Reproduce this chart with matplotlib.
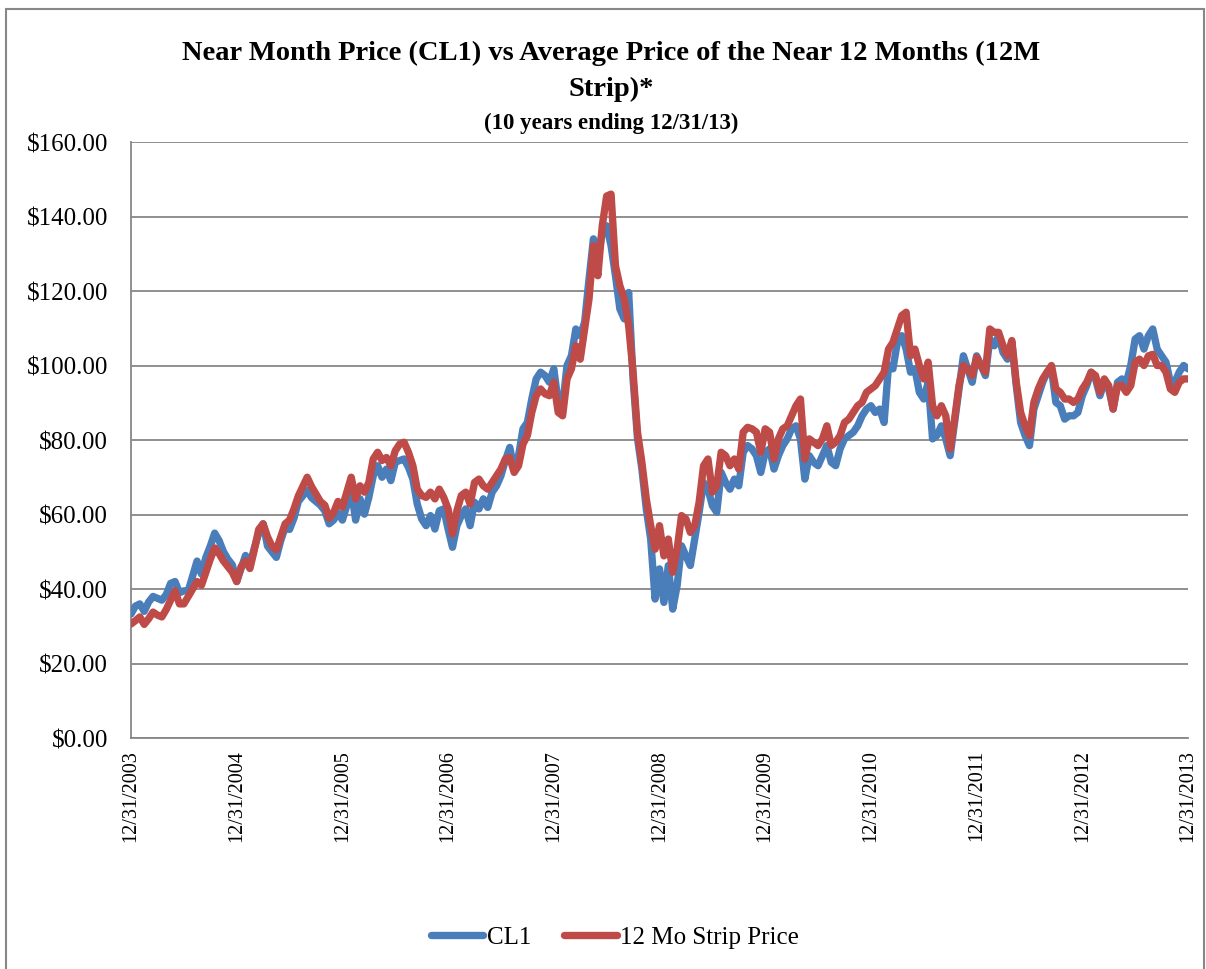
import numpy as np
import matplotlib
matplotlib.use("Agg")
import matplotlib.pyplot as plt
from matplotlib.patches import Rectangle

plt.rcParams['font.family'] = ['Liberation Serif', 'DejaVu Serif']

# semi-monthly readings, 12/31/2003 .. 12/31/2013
cl1 = [33.3, 35.4, 36.0, 34.0, 36.5, 38.0, 37.5, 37.0, 38.5, 41.5, 42.0, 39.0,
       39.5, 39.5, 43.5, 47.5, 44.0, 48.5, 51.5, 55.0, 53.0, 50.0, 48.0, 46.5,
       42.0, 45.5, 49.0, 46.5, 51.0, 55.0, 57.5, 51.5, 50.0, 48.5, 53.0, 56.5,
       56.0, 59.0, 63.5, 65.0, 66.5, 64.5, 63.5, 62.5, 61.0, 57.5, 58.5, 60.5,
       58.5, 62.4, 66.8, 58.5, 64.2, 60.1, 64.6, 70.4, 73.1, 70.0, 72.2, 69.1,
       74.0, 74.5, 74.9, 72.7, 69.5, 62.8, 58.8, 57.0, 59.7, 56.1, 61.0, 61.5,
       56.1, 51.2, 57.0, 59.7, 61.5, 57.0, 63.3, 61.5, 64.2, 61.9, 66.0, 67.7,
       70.4, 74.5, 78.0, 72.2, 75.8, 83.0, 84.7, 91.0, 96.4, 98.2, 97.3, 95.5,
       99.1, 90.1, 89.2, 100.0, 102.6, 109.8, 108.0, 111.6, 123.2, 134.0, 128.6, 135.7,
       137.5, 132.2, 124.1, 115.2, 112.5, 119.6, 96.4, 80.5, 72.2, 61.5, 53.4, 37.3,
       45.4, 36.4, 46.3, 34.6, 40.9, 51.6, 48.9, 46.3, 53.4, 60.6, 68.6, 66.8,
       62.4, 60.6, 71.3, 68.6, 66.8, 69.5, 67.7, 76.7, 78.5, 77.6, 75.8, 71.3,
       76.7, 77.6, 72.2, 75.8, 78.5, 80.3, 83.0, 83.8, 80.3, 69.5, 75.8, 74.0,
       73.1, 75.8, 78.5, 74.0, 73.1, 77.6, 80.3, 81.2, 82.1, 83.8, 86.5, 88.3,
       89.2, 87.4, 88.3, 84.7, 100.0, 99.1, 106.2, 108.0, 104.4, 98.2, 99.1, 92.8,
       91.0, 95.5, 80.3, 81.2, 83.8, 80.3, 75.8, 84.7, 93.7, 102.6, 99.0, 95.5,
       102.6, 100.0, 97.3, 107.1, 105.3, 108.0, 103.5, 101.7, 106.2, 94.6, 84.7, 81.2,
       78.5, 88.3, 91.9, 95.5, 98.2, 99.1, 90.1, 89.2, 85.6, 86.5, 86.5, 87.4,
       91.9, 94.6, 98.2, 96.4, 91.9, 95.5, 93.7, 88.3, 95.5, 96.4, 95.5, 100.0,
       107.1, 108.0, 104.4, 108.0, 109.8, 104.4, 102.6, 100.9, 95.5, 95.5, 98.2, 100.0,
       99.1]

strip = [30.6, 31.5, 32.5, 30.5, 32.0, 33.8, 33.0, 32.5, 34.5, 37.0, 39.5, 36.0,
         36.0, 38.0, 40.0, 42.0, 41.0, 44.5, 48.0, 51.0, 49.5, 47.5, 46.0, 44.5,
         42.0, 46.0, 47.5, 45.5, 50.5, 56.0, 57.5, 54.0, 51.5, 50.5, 54.0, 57.5,
         58.5, 61.5, 65.0, 67.5, 70.0, 67.5, 65.5, 63.5, 62.5, 59.0, 60.5, 63.5,
         62.0, 66.0, 70.0, 64.2, 67.7, 66.0, 68.6, 74.9, 76.7, 74.5, 75.3, 73.1,
         77.1, 78.9, 79.4, 76.7, 73.1, 66.8, 65.1, 64.6, 66.0, 64.2, 66.8, 64.6,
         61.5, 54.8, 61.0, 65.1, 66.0, 62.8, 68.6, 69.5, 67.7, 66.8, 68.6, 70.4,
         72.2, 74.9, 75.3, 71.3, 73.1, 78.9, 81.2, 87.4, 91.9, 93.7, 92.4, 91.9,
         95.5, 87.4, 86.5, 96.4, 99.1, 105.3, 101.7, 109.8, 117.9, 132.2, 124.1, 137.5,
         145.5, 146.0, 126.8, 121.4, 117.9, 110.7, 98.2, 82.1, 74.0, 64.2, 57.0, 50.7,
         57.0, 48.9, 53.4, 44.5, 50.7, 59.7, 58.8, 55.2, 57.0, 63.3, 73.1, 74.9,
         66.0, 67.7, 76.7, 75.8, 73.1, 74.9, 72.2, 82.1, 83.4, 83.0, 82.1, 76.7,
         83.0, 82.1, 74.9, 80.3, 83.0, 83.8, 86.5, 89.2, 91.0, 74.9, 80.3, 79.4,
         78.5, 80.3, 83.8, 78.5, 79.4, 81.2, 84.7, 85.6, 87.4, 89.2, 90.1, 92.8,
         93.7, 94.6, 96.4, 98.2, 104.4, 106.2, 109.8, 113.4, 114.3, 102.6, 104.4, 100.0,
         96.4, 100.9, 89.2, 86.5, 89.2, 86.5, 77.6, 85.6, 94.6, 100.0, 99.0, 97.3,
         102.2, 100.0, 98.2, 109.8, 108.9, 108.9, 105.3, 102.6, 106.7, 95.5, 87.4, 83.8,
         81.2, 90.1, 93.7, 96.4, 98.2, 100.0, 93.7, 92.8, 91.0, 91.0, 90.1, 91.0,
         93.7, 95.5, 98.2, 97.3, 92.8, 96.4, 94.6, 88.3, 94.6, 94.6, 92.8, 94.6,
         100.9, 101.7, 100.0, 102.6, 103.0, 100.0, 100.0, 98.2, 93.7, 92.8, 95.5, 96.4,
         96.4]

year_labels = ['12/31/2003', '12/31/2004', '12/31/2005', '12/31/2006', '12/31/2007',
               '12/31/2008', '12/31/2009', '12/31/2010', '12/31/2011', '12/31/2012',
               '12/31/2013']
price_ticks = [0, 20, 40, 60, 80, 100, 120, 140, 160]

t = np.arange(len(cl1)) / 24.0  # years after 12/31/2003

W, H = 1206, 970
fig = plt.figure(figsize=(W / 100, H / 100), dpi=100)
ax = fig.add_axes([131 / W, 1 - 739 / H, (1188 - 131) / W, (739 - 143) / H])

blue = '#4A7EBB'
red = '#BE4B48'
grid_c = '#878787'

ax.plot(t, cl1, color=blue, lw=5.3, solid_capstyle='round', solid_joinstyle='round', label='CL1', zorder=3)
ax.plot(t, strip, color=red, lw=5.3, solid_capstyle='round', solid_joinstyle='round', label='12 Mo Strip Price', zorder=4)

ax.set_xlim(0, 10)
ax.set_ylim(0, 160)
ax.set_yticks(price_ticks)
ax.set_yticklabels(['$%.2f' % v for v in price_ticks])
ax.set_xticks(range(11))
ax.set_xticklabels(year_labels, rotation=90, va='top', ha='center')
ax.tick_params(length=0, colors='black')
ax.tick_params(axis='y', labelsize=18, pad=16.5)
ax.tick_params(axis='x', labelsize=14.5, pad=8)
ax.yaxis.grid(True, color=grid_c, lw=1.3)
ax.set_axisbelow(True)
for s in ['top', 'right']:
    ax.spines[s].set_visible(False)
for s in ['left', 'bottom']:
    ax.spines[s].set_color(grid_c)
    ax.spines[s].set_linewidth(1.3)

# title (three lines, Excel-style wrap)
fig.text(611 / W, 1 - 53 / H, 'Near Month Price (CL1) vs Average Price of the Near 12 Months (12M',
         ha='center', va='center', fontsize=20.5, fontweight='bold')
fig.text(611 / W, 1 - 89 / H, 'Strip)*', ha='center', va='center', fontsize=20.5, fontweight='bold')
fig.text(611 / W, 1 - 123 / H, '(10 years ending 12/31/13)', ha='center', va='center',
         fontsize=16.5, fontweight='bold')

fig.legend(loc='center', bbox_to_anchor=(615 / W, 1 - 938 / H), ncol=2, frameon=False,
           fontsize=18, handlelength=2.1, handletextpad=0.15, columnspacing=1.3)

# chart border
fig.patches.append(Rectangle((6 / W, -0.05), (1204 - 6) / W, 1 - 10 / H + 0.05,
                             transform=fig.transFigure, fill=False, ec=grid_c, lw=1.5))

fig.savefig('out.png', dpi=100)
